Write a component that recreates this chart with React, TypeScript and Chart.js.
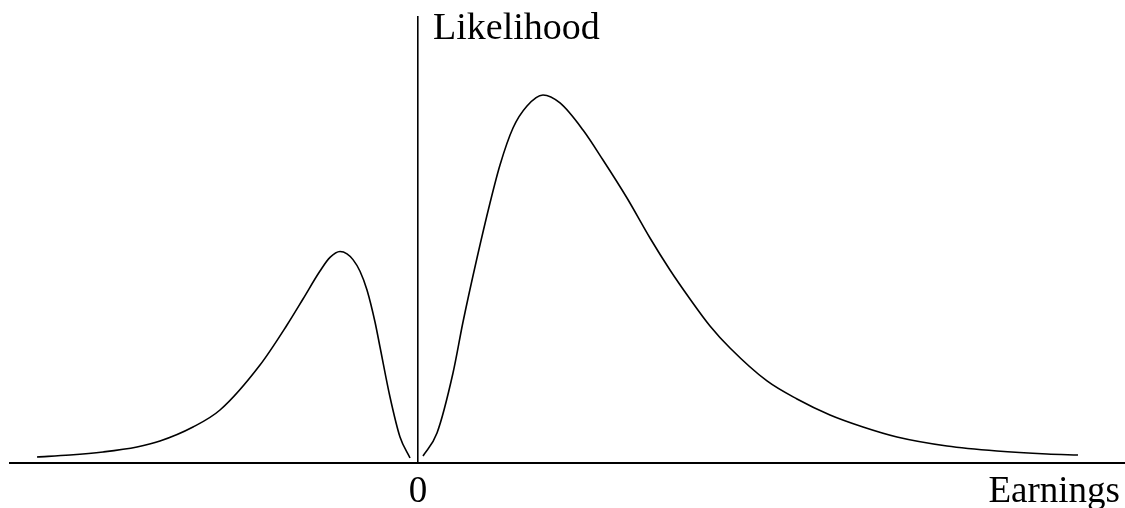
import React, { useEffect, useRef } from "react";
import { Chart, registerables } from "chart.js";

Chart.register(...registerables);

// Earnings (x) and likelihood (y)
const lossEarnings = [-3.81, -3.48, -3.15, -2.81, -2.58, -2.25, -1.98, -1.58, -1.31, -1.15, -0.98, -0.88, -0.78, -0.71, -0.65, -0.58, -0.51, -0.43, -0.38, -0.28, -0.18, -0.08];
const lossLikelihood = [1.35, 1.79, 2.47, 3.59, 4.93, 8.07, 11.88, 21.97, 30.94, 36.77, 43.05, 46.1, 47.42, 46.9, 45.6, 43.0, 38.79, 31.61, 26.01, 14.8, 5.83, 1.12];

const gainEarnings = [0.05, 0.19, 0.35, 0.45, 0.59, 0.72, 0.82, 0.95, 1.09, 1.25, 1.42, 1.65, 1.85, 2.09, 2.32, 2.52, 2.72, 2.92, 3.12, 3.49, 3.79, 4.12, 4.45, 4.79, 5.29, 5.79, 6.29, 6.6];
const gainLikelihood = [1.57, 6.73, 20.18, 31.61, 45.96, 58.3, 66.82, 75.11, 80.04, 82.51, 80.72, 74.66, 67.94, 59.42, 50.45, 43.27, 36.77, 30.72, 25.78, 18.39, 14.35, 10.76, 8.07, 5.83, 3.81, 2.69, 2.02, 1.79];

const xMin = -4.08;
const xMax = 7.06;
const yMin = 0;
const yMax = 100;

const xTitle = "Earnings";
const yTitle = "Likelihood";
const zeroLabel = "0";

const FONT = '"Liberation Serif", "Times New Roman", serif';

function toPoints(xs: number[], ys: number[]) {
  return xs.map((x, i) => ({ x, y: ys[i] }));
}

const labelPlugin = {
  id: "axisLabels",
  afterDraw(chart: any) {
    const { ctx, scales } = chart;
    const xs = scales.x;
    const ys = scales.y;
    const x0 = xs.getPixelForValue(0);
    ctx.save();
    ctx.fillStyle = "#000";
    ctx.textBaseline = "alphabetic";
    // Likelihood, to the right of the top of the vertical axis
    ctx.font = `38px ${FONT}`;
    ctx.textAlign = "left";
    ctx.fillText(yTitle, x0 + 15, ys.top + 22);
    // Zero under the origin
    ctx.font = `37px ${FONT}`;
    ctx.textAlign = "center";
    ctx.fillText(zeroLabel, x0, ys.bottom + 39);
    // Earnings at the right end of the horizontal axis
    ctx.textAlign = "right";
    ctx.fillText(xTitle, xs.right - 4, ys.bottom + 39);
    ctx.restore();
  },
};

export default function App() {
  const ref = useRef<HTMLCanvasElement | null>(null);

  useEffect(() => {
    document.body.style.margin = "0";
    const canvas = ref.current;
    if (!canvas) return;
    const lineStyle = {
      borderColor: "#000",
      borderWidth: 1.6,
      pointRadius: 0,
      fill: false,
      tension: 0.4,
      cubicInterpolationMode: "monotone" as const,
    };
    const chart = new Chart(canvas, {
      type: "line",
      data: {
        datasets: [
          { data: toPoints(lossEarnings, lossLikelihood), ...lineStyle },
          { data: toPoints(gainEarnings, gainLikelihood), ...lineStyle },
        ],
      },
      options: {
        animation: false,
        responsive: false,
        maintainAspectRatio: false,
        devicePixelRatio: 1,
        layout: { padding: { left: 10, right: 1, top: 17, bottom: 45 } },
        plugins: {
          legend: { display: false },
          tooltip: { enabled: false },
          title: { display: false },
        },
        scales: {
          x: {
            type: "linear",
            position: "bottom",
            min: xMin,
            max: xMax,
            grid: { display: false, drawTicks: false },
            ticks: { display: false },
            border: { display: true, color: "#000", width: 2 },
          },
          y: {
            type: "linear",
            position: { x: 0 } as any,
            min: yMin,
            max: yMax,
            grid: { display: false, drawTicks: false },
            ticks: { display: false },
            border: { display: true, color: "#000", width: 1.6 },
          },
        },
      },
      plugins: [labelPlugin],
    });
    return () => chart.destroy();
  }, []);

  return (
    <div style={{ position: "absolute", left: 0, top: 0, width: 1125, height: 508 }}>
      <canvas ref={ref} width={1125} height={508} style={{ width: 1125, height: 508, display: "block" }} />
    </div>
  );
}
